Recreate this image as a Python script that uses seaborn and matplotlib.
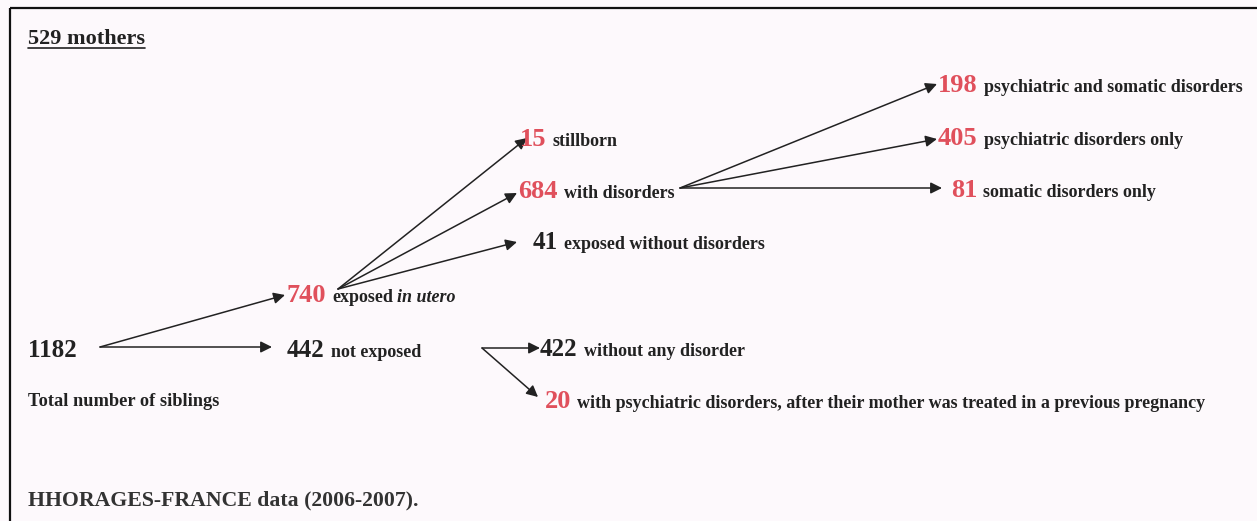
import matplotlib
matplotlib.use("Agg")
import matplotlib.pyplot as plt
import seaborn as sns

# ---------------- data ----------------
node_ids = ["total", "exposed", "not_exposed", "stillborn", "with_dis", "exp_nodis",
            "psy_som", "psy_only", "som_only", "no_dis", "psy_prev"]
node_values = [1182, 740, 442, 15, 684, 41, 198, 405, 81, 422, 20]
node_labels = [
    [],
    [("exposed", "normal"), ("in utero", "italic")],
    [("not exposed", "normal")],
    [("stillborn", "normal")],
    [("with disorders", "normal")],
    [("exposed without disorders", "normal")],
    [("psychiatric and somatic disorders", "normal")],
    [("psychiatric disorders only", "normal")],
    [("somatic disorders only", "normal")],
    [("without any disorder", "normal")],
    [("with psychiatric disorders, after their mother was treated in a previous pregnancy", "normal")],
]
node_highlight = [False, True, False, True, True, False, True, True, True, False, True]
edges = [("total", "exposed"), ("total", "not_exposed"),
         ("exposed", "stillborn"), ("exposed", "with_dis"), ("exposed", "exp_nodis"),
         ("with_dis", "psy_som"), ("with_dis", "psy_only"), ("with_dis", "som_only"),
         ("not_exposed", "no_dis"), ("not_exposed", "psy_prev")]
title_text = "529 mothers"
total_caption = "Total number of siblings"
source_text = "HHORAGES-FRANCE data (2006-2007)."

# ---------------- layout (pixels) ----------------
node_pos = {  # left x of number, baseline y
    "total": (28, 357), "exposed": (287, 302), "not_exposed": (287, 357),
    "stillborn": (520, 146), "with_dis": (518, 198), "exp_nodis": (533, 249),
    "psy_som": (938, 92), "psy_only": (938, 145), "som_only": (951, 197),
    "no_dis": (540, 356), "psy_prev": (545, 408),
}
arrow_start = {"total": (100, 347), "exposed": (338, 289), "with_dis": (680, 188),
               "not_exposed": (482, 348)}
arrow_end = {"exposed": (285, 295), "not_exposed": (272, 347), "stillborn": (527, 138),
             "with_dis": (517, 193), "exp_nodis": (517, 242), "psy_som": (937, 84),
             "psy_only": (937, 139), "som_only": (942, 188), "no_dis": (540, 348),
             "psy_prev": (538, 397)}

RED = "#e0505c"
INK = "#222222"
BG = "#fdf9fc"

sns.set_theme(style="white")
plt.rcParams["font.family"] = ["Liberation Serif", "DejaVu Serif"]

W, H = 1257, 521
fig = plt.figure(figsize=(W / 100, H / 100), dpi=100, facecolor=BG)
ax = fig.add_axes([0, 0, 1, 1])
ax.set_facecolor(BG)
ax.set_xlim(0, W)
ax.set_ylim(H, 0)
ax.axis("off")

# frame (top and left)
ax.plot([10, W], [8, 8], color="#111111", lw=1.6, solid_capstyle="butt")
ax.plot([10, 10], [8, H], color="#111111", lw=1.6, solid_capstyle="butt")

renderer = fig.canvas.get_renderer()


def text_right(t):
    bb = t.get_window_extent(renderer=renderer)
    inv = ax.transData.inverted()
    return inv.transform((bb.x1, bb.y0))[0]


# arrows
for src, dst in edges:
    ax.annotate("", xy=arrow_end[dst], xytext=arrow_start[src],
                arrowprops=dict(arrowstyle="-|>", color=INK, lw=1.1,
                                mutation_scale=17, shrinkA=0, shrinkB=0))

# nodes
for nid, val, lab, hl in zip(node_ids, node_values, node_labels, node_highlight):
    x, y = node_pos[nid]
    t = ax.text(x, y, str(val), fontsize=19 if hl else 18, fontweight="bold",
                color=RED if hl else INK, ha="left", va="baseline")
    cx = text_right(t) + 6
    for i, (piece, style) in enumerate(lab):
        tp = ax.text(cx, y, piece, fontsize=13, fontweight="bold", fontstyle=style,
                     color=INK, ha="left", va="baseline")
        cx = text_right(tp) + 4

# title with underline
tt = ax.text(28, 44, title_text, fontsize=16, fontweight="bold", color=INK,
             ha="left", va="baseline")
ax.plot([28, text_right(tt)], [48, 48], color=INK, lw=1.2)

ax.text(28, 406, total_caption, fontsize=13.2, fontweight="bold", color=INK,
        ha="left", va="baseline")
ax.text(28, 505, source_text, fontsize=15.7, fontweight="bold", color="#333333",
        ha="left", va="baseline")

fig.savefig("out.png", dpi=100, facecolor=BG)
